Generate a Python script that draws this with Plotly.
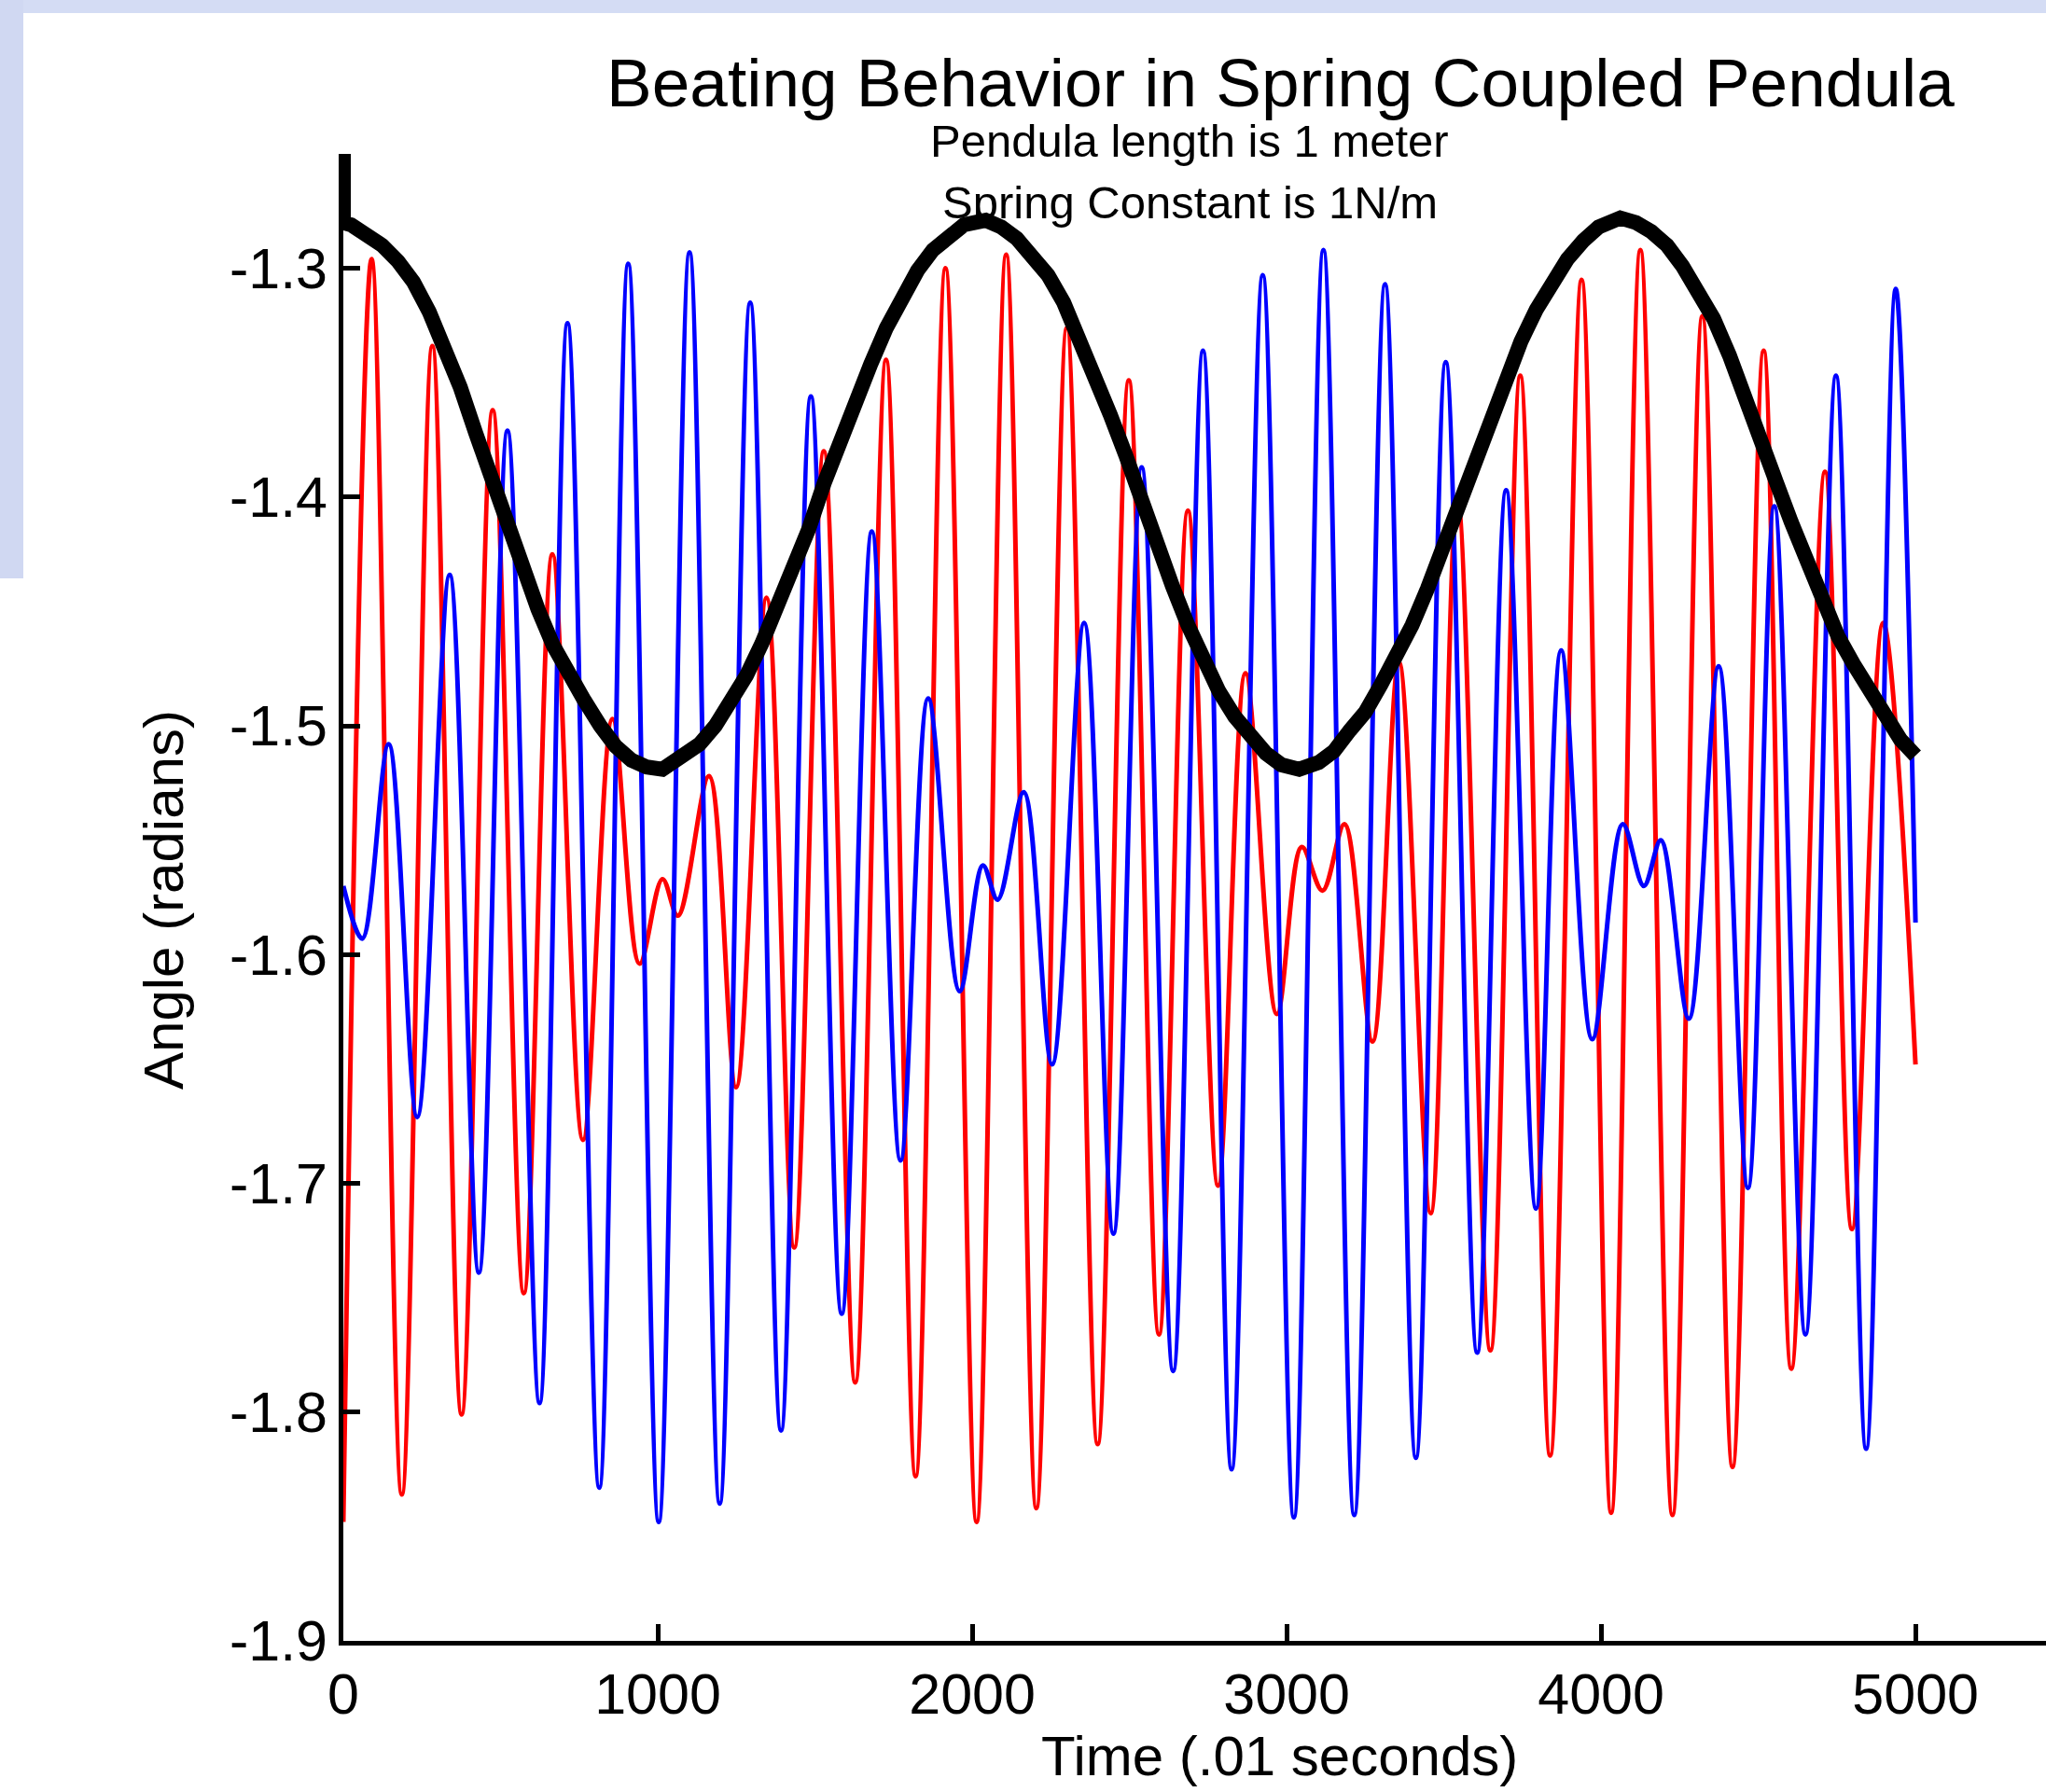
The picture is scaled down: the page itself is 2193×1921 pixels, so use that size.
import plotly.graph_objects as go

# ---- data ----
red_t = [0, 90, 186, 283, 376, 475, 574, 665, 762, 856, 942, 1015, 1064, 1163, 1249, 1346, 1434, 1528, 1628, 1726,
         1820, 1915, 2014, 2108, 2204, 2301, 2399, 2498, 2594, 2686, 2782, 2869, 2969, 3048, 3114, 3184, 3273, 3357, 3458, 3543,
         3648, 3743, 3838, 3938, 4032, 4125, 4227, 4322, 4418, 4517, 4605, 4712, 4798, 4897, 5000]
red_v = [-1.848, -1.296, -1.836, -1.334, -1.801, -1.362, -1.748, -1.425, -1.681, -1.497, -1.604, -1.567, -1.583, -1.522,
         -1.658, -1.444, -1.728, -1.380, -1.787, -1.340, -1.828, -1.300, -1.848, -1.294, -1.842, -1.326, -1.814, -1.349,
         -1.766, -1.406, -1.701, -1.477, -1.626, -1.553, -1.572, -1.543, -1.638, -1.472, -1.713, -1.400, -1.773, -1.347,
         -1.819, -1.305, -1.844, -1.292, -1.845, -1.321, -1.824, -1.336, -1.781, -1.389, -1.720, -1.455, -1.648]

blue_t = [0, 60, 144, 235, 338, 431, 522, 624, 713, 814, 906, 1003, 1101, 1197, 1294, 1392, 1487, 1585, 1681, 1772,
          1860, 1960, 2034, 2081, 2164, 2254, 2356, 2449, 2539, 2639, 2734, 2825, 2924, 3023, 3117, 3215, 3313, 3411, 3506, 3606,
          3698, 3793, 3873, 3972, 4069, 4136, 4190, 4279, 4374, 4467, 4551, 4650, 4747, 4843, 4937, 5000]
blue_v = [-1.570, -1.593, -1.508, -1.671, -1.434, -1.739, -1.371, -1.796, -1.324, -1.833, -1.298, -1.848, -1.293, -1.840,
          -1.315, -1.808, -1.356, -1.757, -1.415, -1.690, -1.488, -1.616, -1.561, -1.576, -1.529, -1.648, -1.455, -1.722,
          -1.387, -1.782, -1.336, -1.825, -1.303, -1.846, -1.292, -1.845, -1.307, -1.820, -1.341, -1.774, -1.397, -1.711,
          -1.467, -1.637, -1.543, -1.570, -1.550, -1.628, -1.474, -1.702, -1.404, -1.766, -1.347, -1.816, -1.309, -1.586]

black_t = [0, 0, 25, 75, 124, 174, 223, 273, 322, 372, 421, 470, 520, 569, 619, 668, 718, 767, 817, 866,
           916, 965, 1015, 1084, 1133, 1183, 1232, 1282, 1331, 1381, 1430, 1480, 1529, 1578, 1628, 1677, 1727, 1776, 1826, 1875,
           1925, 1974, 2043, 2093, 2142, 2192, 2241, 2291, 2340, 2390, 2439, 2489, 2538, 2587, 2637, 2686, 2736, 2785, 2835, 2884,
           2934, 2983, 3040, 3102, 3151, 3201, 3250, 3300, 3349, 3399, 3448, 3498, 3547, 3596, 3646, 3695, 3745, 3794, 3844, 3893,
           3943, 3992, 4061, 4111, 4160, 4210, 4259, 4309, 4358, 4408, 4457, 4507, 4556, 4605, 4655, 4704, 4754, 4803, 4853, 4902,
           4952, 5000]
black_v = [-1.24, -1.280, -1.281, -1.285, -1.290, -1.297, -1.306, -1.319, -1.334, -1.352, -1.372, -1.392, -1.412, -1.431,
           -1.449, -1.465, -1.478, -1.489, -1.500, -1.509, -1.515, -1.518, -1.519, -1.513, -1.508, -1.500, -1.490, -1.478,
           -1.464, -1.448, -1.432, -1.414, -1.394, -1.376, -1.356, -1.342, -1.326, -1.312, -1.301, -1.292, -1.286, -1.281,
           -1.279, -1.282, -1.287, -1.294, -1.303, -1.315, -1.330, -1.346, -1.364, -1.382, -1.402, -1.420, -1.439, -1.456,
           -1.472, -1.485, -1.496, -1.505, -1.512, -1.517, -1.519, -1.516, -1.511, -1.502, -1.494, -1.482, -1.470, -1.456,
           -1.440, -1.422, -1.404, -1.384, -1.366, -1.350, -1.332, -1.318, -1.306, -1.296, -1.288, -1.282, -1.278, -1.280,
           -1.284, -1.290, -1.299, -1.310, -1.322, -1.338, -1.355, -1.374, -1.393, -1.411, -1.429, -1.446, -1.461, -1.473,
           -1.485, -1.496, -1.506, -1.513]

x_tick_vals = [0, 1000, 2000, 3000, 4000, 5000]
x_tick_text = ["0", "1000", "2000", "3000", "4000", "5000"]
y_tick_vals = [-1.9, -1.8, -1.7, -1.6, -1.5, -1.4, -1.3]
y_tick_text = ["-1.9", "-1.8", "-1.7", "-1.6", "-1.5", "-1.4", "-1.3"]

title_text = "Beating Behavior in Spring Coupled Pendula"
sub1_text = "Pendula length is 1 meter"
sub2_text = "Spring Constant is 1N/m"
x_label = "Time (.01 seconds)"
y_label = "Angle (radians)"

FONT = "Liberation Sans, Arial, sans-serif"
W, H = 2193, 1921
ML, MR, MT, MB = 368, 0, 165, 162
PW, PH = W - ML - MR, H - MT - MB


def px(X):
    return (X - ML) / PW


def py(Y):
    return (H - MB - Y) / PH


fig = go.Figure()
fig.add_trace(go.Scatter(x=red_t, y=red_v, mode="lines", line=dict(color="#ff0000", width=5, shape="spline"),
                         showlegend=False, hoverinfo="skip"))
fig.add_trace(go.Scatter(x=blue_t, y=blue_v, mode="lines", line=dict(color="#0000ff", width=5, shape="spline"),
                         showlegend=False, hoverinfo="skip"))
fig.add_trace(go.Scatter(x=black_t, y=black_v, mode="lines", line=dict(color="#000000", width=16),
                         showlegend=False, hoverinfo="skip"))

axis_common = dict(showline=True, linecolor="black", linewidth=4.5, ticks="inside", ticklen=18, tickwidth=4.5,
                   tickcolor="black", showgrid=False, zeroline=False, mirror=False,
                   tickfont=dict(family=FONT, size=61, color="black"))

fig.update_layout(
    width=W, height=H, autosize=False,
    margin=dict(l=ML, r=MR, t=MT, b=MB, pad=0),
    paper_bgcolor="white", plot_bgcolor="white",
    xaxis=dict(range=[0, 5415], tickvals=x_tick_vals, ticktext=x_tick_text, **axis_common),
    yaxis=dict(range=[-1.9, -1.25], tickvals=y_tick_vals, ticktext=y_tick_text, **axis_common),
    shapes=[
        dict(type="rect", xref="paper", yref="paper", x0=px(0), x1=px(W), y0=py(0), y1=py(14),
             fillcolor="#d4dcf4", line=dict(width=0), layer="below"),
        dict(type="rect", xref="paper", yref="paper", x0=px(0), x1=px(25), y0=py(0), y1=py(620),
             fillcolor="#d0d8f2", line=dict(width=0), layer="below"),
    ],
    annotations=[
        dict(text=title_text, xref="paper", yref="paper", x=px(1372), y=py(88), showarrow=False,
             xanchor="center", yanchor="middle", font=dict(family=FONT, size=73, color="black")),
        dict(text=sub1_text, xref="paper", yref="paper", x=px(1275), y=py(151), showarrow=False,
             xanchor="center", yanchor="middle", font=dict(family=FONT, size=49, color="black")),
        dict(text=sub2_text, xref="paper", yref="paper", x=px(1275), y=py(217), showarrow=False,
             xanchor="center", yanchor="middle", font=dict(family=FONT, size=49, color="black")),
        dict(text=x_label, xref="paper", yref="paper", x=px(1371), y=py(1882), showarrow=False,
             xanchor="center", yanchor="middle", font=dict(family=FONT, size=60, color="black")),
        dict(text=y_label, xref="paper", yref="paper", x=px(175), y=py(965), showarrow=False, textangle=-90,
             xanchor="center", yanchor="middle", font=dict(family=FONT, size=60, color="black")),
    ],
)

fig.write_html("out.html", config={"displayModeBar": False},
               post_script="document.body.style.margin='0px';document.body.style.overflow='hidden';")
